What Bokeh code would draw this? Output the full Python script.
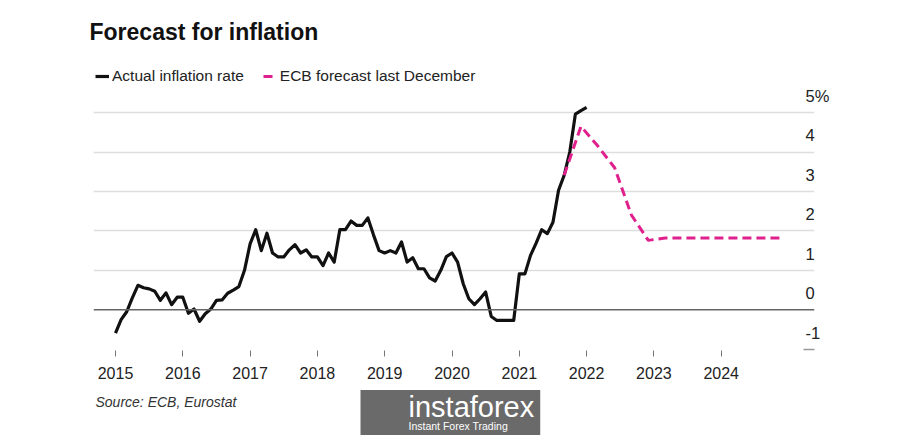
from bokeh.plotting import figure
from bokeh.models import (FixedTicker, LinearAxis, Range1d, Span, Legend,
                          LegendItem, Title)
from bokeh.embed import file_html
from bokeh.resources import INLINE

# ---------------- data ----------------
# Actual euro-area inflation rate, monthly, starting January 2015 (%)
actual_2015 = [-0.59, -0.25, -0.05, 0.30, 0.62, 0.56, 0.53, 0.47, 0.24, 0.43, 0.13, 0.32]
actual_2016 = [0.32, -0.09, 0.02, -0.29, -0.10, 0.02, 0.24, 0.25, 0.42, 0.50, 0.59, 1.00]
actual_2017 = [1.67, 2.03, 1.50, 1.94, 1.44, 1.34, 1.34, 1.52, 1.65, 1.44, 1.52, 1.34]
actual_2018 = [1.34, 1.12, 1.44, 1.21, 2.03, 2.03, 2.25, 2.14, 2.14, 2.33, 1.90, 1.50]
actual_2019 = [1.44, 1.50, 1.44, 1.72, 1.21, 1.32, 1.04, 1.04, 0.81, 0.73, 1.00, 1.35]
actual_2020 = [1.44, 1.21, 0.66, 0.28, 0.13, 0.28, 0.45, -0.17, -0.27, -0.27, -0.27, -0.27]
actual_2021 = [0.91, 0.91, 1.38, 1.69, 2.03, 1.93, 2.22, 3.03, 3.41, 4.00, 4.96, 5.05]
actual_2022 = [5.13]
actual_start_year = 2015

# ECB forecast last December, quarterly (%)
forecast_quarters = ["2021Q3", "2021Q4", "2022Q1", "2022Q2", "2022Q3", "2022Q4",
                     "2023Q1", "2023Q2", "2023Q3", "2023Q4",
                     "2024Q1", "2024Q2", "2024Q3", "2024Q4"]
forecast_values = [3.41, 4.65, 4.15, 3.60, 2.40, 1.76,
                   1.82, 1.82, 1.82, 1.82,
                   1.82, 1.82, 1.82, 1.82]

year_ticks = [2015, 2016, 2017, 2018, 2019, 2020, 2021, 2022, 2023, 2024]
y_ticks = [-1, 0, 1, 2, 3, 4, 5]
y_tick_labels = ["-1", "0", "1", "2", "3", "4", "5%"]

# ---------------- derived positions ----------------
actual_values = (actual_2015 + actual_2016 + actual_2017 + actual_2018 +
                 actual_2019 + actual_2020 + actual_2021 + actual_2022)
actual_x = [actual_start_year + i / 12 for i in range(len(actual_values))]
forecast_x = [int(q[:4]) + (3 * int(q[5]) - 1) / 12 for q in forecast_quarters]

FONT = "Liberation Sans"
BLACK = "#111111"
PINK = "#e0208c"
WM_GRAY = "#6a6a6a"

Y0, Y1 = -1.0317, 6.3701

p = figure(width=900, height=435, output_backend="svg", toolbar_location=None,
           x_range=Range1d(2014.6731, 2025.3863),
           y_range=Range1d(Y0, Y1),
           y_axis_location="right",
           min_border_left=93, min_border_right=86,
           min_border_top=58, min_border_bottom=85,
           background_fill_color="white", border_fill_color="white",
           outline_line_color=None)

# title
p.title.text = "Forecast for inflation"
p.title.text_font = FONT
p.title.text_font_size = "23px"
p.title.text_font_style = "bold"
p.title.text_color = BLACK
p.title.align = "left"
p.title.offset = -4
p.title.standoff = 28

# grid
p.xgrid.visible = False
p.ygrid.ticker = FixedTicker(ticks=[1, 2, 3, 4, 5])
p.ygrid.grid_line_color = "#dedede"
p.ygrid.grid_line_width = 1.6
p.add_layout(Span(location=0, dimension="width", line_color="#666666",
                  line_width=1.5))

# x axis
xa = p.xaxis[0]
xa.ticker = FixedTicker(ticks=year_ticks)
xa.axis_line_color = None
xa.major_tick_in = 0
xa.major_tick_out = 6
xa.major_tick_line_color = "#777777"
xa.minor_tick_line_color = None
xa.major_label_text_font = FONT
xa.major_label_text_font_size = "16px"
xa.major_label_text_color = "#222222"
xa.major_label_standoff = 10

# right axis (tick dash only at -1, label drawn by the axis below)
ya = p.yaxis[0]
ya.ticker = FixedTicker(ticks=[-1])
ya.major_label_overrides = {-1: ""}
ya.axis_line_color = None
ya.major_tick_in = 11
ya.major_tick_out = 0
ya.major_tick_line_color = "#999999"
ya.major_tick_line_width = 1.5
ya.minor_tick_line_color = None
ya.major_label_standoff = 0

# right axis with labels sitting above the grid lines
shift = 0.42
p.extra_y_ranges = {"lbl": Range1d(Y0 - shift, Y1 - shift)}
la = LinearAxis(y_range_name="lbl", ticker=FixedTicker(ticks=y_ticks),
                major_label_overrides=dict(zip(y_ticks, y_tick_labels)))
la.axis_line_color = None
la.major_tick_in = 0
la.major_tick_out = 0
la.minor_tick_line_color = None
la.major_label_text_font = FONT
la.major_label_text_font_size = "16.5px"
la.major_label_text_color = "#222222"
la.major_label_standoff = -9
p.add_layout(la, "right")

# lines
r_act = p.line(actual_x, actual_values, line_color=BLACK, line_width=3.2,
               line_join="round")
r_fc = p.line(forecast_x, forecast_values, line_color=PINK, line_width=3,
              line_dash="9 5")

legend = Legend(items=[LegendItem(label="Actual inflation rate", renderers=[r_act]),
                       LegendItem(label="ECB forecast last December", renderers=[r_fc])],
                location="top_left", orientation="horizontal", margin=0,
                padding=2, spacing=19, label_standoff=3, glyph_width=14,
                glyph_height=32, label_height=32, label_text_font=FONT,
                label_text_font_size="15.5px", label_text_color="#222222",
                background_fill_alpha=0, border_line_alpha=0)
p.add_layout(legend)

# source
src = Title(text="Source: ECB, Eurostat", align="left", text_font=FONT,
            text_font_style="italic", text_font_size="14px",
            text_color="#333333", offset=2, standoff=21)
p.add_layout(src, "below")

# watermark: grey box carried by the big word (takes no room in the panel),
# small caption drawn on top of it
wm_big = Title(text="instaforex", align="left", text_font=FONT,
               text_font_style="normal", text_font_size="29px",
               text_color="white", offset=267,
               vertical_align="top", text_baseline="top", standoff=-61,
               background_fill_color=WM_GRAY,
               padding=dict(left=48, right=6, top=1, bottom=14))
p.add_layout(wm_big, "below")
wm_small = Title(text="Instant Forex Trading", align="left", text_font=FONT,
                 text_font_style="normal", text_font_size="10.5px",
                 text_color="white", offset=315, standoff=-6)
p.add_layout(wm_small, "below")

open("out.html", "w").write(file_html(p, INLINE))
